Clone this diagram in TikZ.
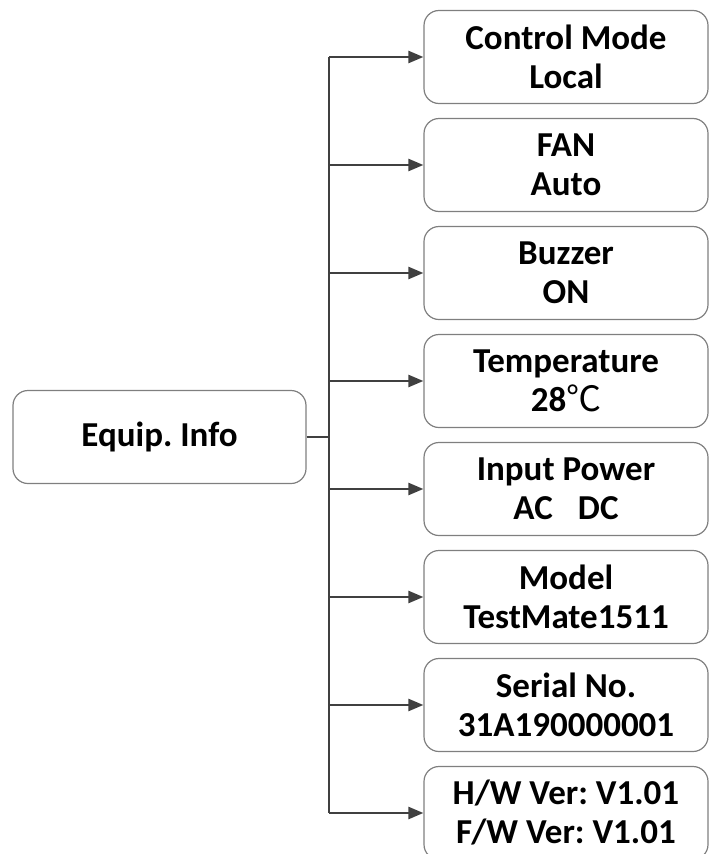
\documentclass[tikz,border=0pt]{standalone}
\usepackage{fontspec}
\setmainfont{Carlito}
\newfontfamily\cjk{Noto Sans CJK SC}
\usetikzlibrary{arrows.meta}
\frenchspacing
\definecolor{linegray}{HTML}{404040}
\definecolor{boxgray}{HTML}{7F7F7F}
\tikzset{
  infobox/.style={draw=boxgray, line width=1.2pt, rounded corners=15pt, align=center,
    minimum width=284pt, minimum height=93pt, inner sep=0pt,
    font=\fontsize{35}{39}\selectfont\bfseries},
  link/.style={draw=linegray, line width=2.4pt}
}
\begin{document}
\begin{tikzpicture}[x=1pt, y=-1pt, >={Triangle[length=15pt,width=12pt]}]
\useasboundingbox (0,0) rectangle (709,854);
\node[infobox, minimum width=293pt] (equip) at (159.5,437) {Equip. Info};
\node[infobox] (mode) at (566,57) {Control Mode\\Local};
\node[infobox] (fan) at (566,165) {FAN\\Auto};
\node[infobox] (buzzer) at (566,273) {Buzzer\\ON};
\node[infobox] (temp) at (566,381) {Temperature\\28{\cjk\mdseries ℃}};
\node[infobox] (power) at (566,489) {Input Power\\AC\hspace{0.72em}DC};
\node[infobox] (model) at (566,597) {Model\\TestMate1511};
\node[infobox] (serial) at (566,705) {Serial No.\\31A190000001};
\node[infobox] (ver) at (566,813) {H/W Ver: V1.01\\F/W Ver: V1.01};
\coordinate (fork) at (329,437);
\coordinate (top) at (329,57);
\coordinate (bottom) at (329,813);
\draw[link] (equip) -- (fork);
\draw[link] (top) -- (bottom);
\draw[link,->] (mode.west -| fork) -- (mode);
\draw[link,->] (fan.west -| fork) -- (fan);
\draw[link,->] (buzzer.west -| fork) -- (buzzer);
\draw[link,->] (temp.west -| fork) -- (temp);
\draw[link,->] (power.west -| fork) -- (power);
\draw[link,->] (model.west -| fork) -- (model);
\draw[link,->] (serial.west -| fork) -- (serial);
\draw[link,->] (ver.west -| fork) -- (ver);
\end{tikzpicture}
\end{document}
